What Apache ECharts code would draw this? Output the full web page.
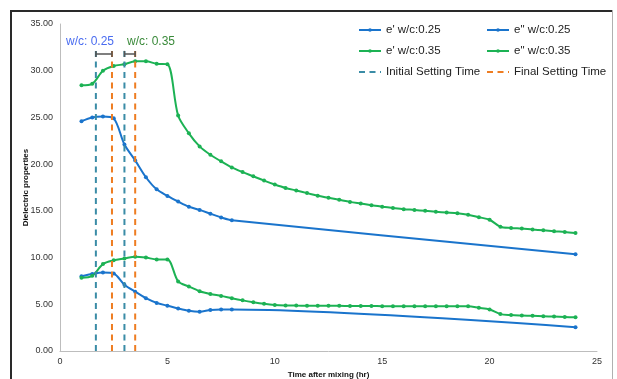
<!DOCTYPE html>
<html>
<head>
<meta charset="utf-8">
<script src="https://cdn.jsdelivr.net/npm/echarts@6/dist/echarts.min.js"></script>
<style>
html,body{margin:0;padding:0;background:#fff;}
#c{width:617px;height:379px;}
</style>
</head>
<body>
<div id="c"></div>
<script>
// ---- data ----
var xW25 = [1, 1.5, 2, 2.5, 3, 3.5, 4, 4.5, 5, 5.5, 6, 6.5, 7, 7.5, 8, 24];
var eP25 = [24.6, 25.0, 25.1, 24.9, 22.1, 20.4, 18.6, 17.3, 16.6, 16.0, 15.45, 15.1, 14.7, 14.3, 14.0, 10.35];
var eDP25 = [8.0, 8.25, 8.4, 8.3, 7.1, 6.35, 5.65, 5.15, 4.85, 4.55, 4.3, 4.2, 4.4, 4.45, 4.45, 2.55];

var xW35 = [1, 1.5, 2, 2.5, 3, 3.5, 4, 4.5, 5, 5.5, 6, 6.5, 7, 7.5, 8, 8.5, 9, 9.5, 10, 10.5, 11, 11.5, 12, 12.5, 13, 13.5, 14, 14.5, 15, 15.5, 16, 16.5, 17, 17.5, 18, 18.5, 19, 19.5, 20, 20.5, 21, 21.5, 22, 22.5, 23, 23.5, 24];
var eP35 = [28.45, 28.6, 30.0, 30.5, 30.7, 31.0, 31.0, 30.75, 30.7, 25.2, 23.3, 21.9, 21.0, 20.3, 19.65, 19.15, 18.7, 18.24, 17.82, 17.45, 17.18, 16.9, 16.62, 16.4, 16.18, 15.96, 15.78, 15.6, 15.45, 15.31, 15.18, 15.1, 15.0, 14.9, 14.82, 14.74, 14.58, 14.32, 14.05, 13.3, 13.17, 13.1, 13.0, 12.92, 12.82, 12.74, 12.63];
var eDP35 = [7.85, 8.05, 9.3, 9.7, 9.9, 10.1, 10.0, 9.8, 9.8, 7.45, 6.9, 6.4, 6.1, 5.9, 5.65, 5.42, 5.22, 5.05, 4.93, 4.88, 4.86, 4.85, 4.84, 4.83, 4.83, 4.82, 4.82, 4.81, 4.8, 4.8, 4.78, 4.78, 4.78, 4.78, 4.78, 4.8, 4.78, 4.62, 4.45, 3.95, 3.85, 3.8, 3.76, 3.72, 3.68, 3.64, 3.6];

var initialSet = [1.67, 3.0];   // w/c 0.25, w/c 0.35
var finalSet = [2.42, 3.5];
var setLineTop = 32.2;
var bracketLevel = 31.8;
var wcLabels = ['w/c: 0.25', 'w/c: 0.35'];

var xTicks = [0, 5, 10, 15, 20, 25];
var yTicks = [0, 5, 10, 15, 20, 25, 30, 35];

// ---- styles ----
var BLUE = '#1a74cc';
var GREEN = '#1cb254';
var TEAL = '#3a8ca6';
var ORANGE = '#ee7d22';
var FONT = '"Liberation Sans", Arial, sans-serif';

function pairs(xs, ys) { return xs.map(function (x, i) { return [x, ys[i]]; }); }

function dataSeries(name, xs, ys, color) {
  return {
    name: name, type: 'line', data: pairs(xs, ys), smooth: 0.3,
    symbol: 'circle', symbolSize: 4, showSymbol: true,
    itemStyle: { color: color },
    lineStyle: { color: color, width: 2 },
    emphasis: { disabled: true }, animation: false, z: 2
  };
}

var series = [
  dataSeries("e' w/c:0.25", xW25, eP25, BLUE),
  dataSeries('e" w/c:0.25', xW25, eDP25, BLUE),
  dataSeries("e' w/c:0.35", xW35, eP35, GREEN),
  dataSeries('e" w/c:0.35', xW35, eDP35, GREEN)
];

function vline(name, t, color) {
  return {
    name: name, type: 'line', data: [[t, 0], [t, setLineTop]],
    symbol: 'none',
    itemStyle: { color: color },
    lineStyle: { color: color, width: 2, type: [6, 4.5] },
    emphasis: { disabled: true }, animation: false, z: 3, silent: true
  };
}
initialSet.forEach(function (t) { series.push(vline('Initial Setting Time', t, TEAL)); });
finalSet.forEach(function (t) { series.push(vline('Final Setting Time', t, ORANGE)); });

initialSet.forEach(function (t, i) {
  series.push({
    name: 'bracket' + i, type: 'line', data: [[t, bracketLevel], [finalSet[i], bracketLevel]],
    symbol: 'rect', symbolSize: [1.5, 6],
    itemStyle: { color: '#555' }, lineStyle: { color: '#555', width: 1.5 },
    emphasis: { disabled: true }, animation: false, z: 4, silent: true
  });
});

var chart = echarts.init(document.getElementById('c'), null, { renderer: 'canvas' });
var legendCommon = {
  orient: 'vertical', top: 24, padding: 0, itemWidth: 22, itemHeight: 4.5, itemGap: 9,
  textStyle: { fontFamily: FONT, fontSize: 11.5, color: '#222' },
  selectedMode: false
};
chart.setOption({
  backgroundColor: '#fff',
  animation: false,
  textStyle: { fontFamily: FONT },
  grid: { left: 60, top: 24, width: 537, height: 327, outerBoundsMode: 'none' },
  legend: [
    Object.assign({ left: 358, data: ["e' w/c:0.25", "e' w/c:0.35",
      { name: 'Initial Setting Time', itemStyle: { opacity: 0 } }] }, legendCommon),
    Object.assign({ left: 486, data: ['e" w/c:0.25', 'e" w/c:0.35',
      { name: 'Final Setting Time', itemStyle: { opacity: 0 } }] }, legendCommon)
  ],
  xAxis: {
    type: 'value', min: xTicks[0], max: xTicks[xTicks.length - 1], interval: 5,
    name: 'Time after mixing (hr)', nameLocation: 'middle', nameGap: 20,
    nameTextStyle: { fontFamily: FONT, fontSize: 8, fontWeight: 'bold', color: '#111' },
    axisLine: { show: true, lineStyle: { color: '#bdbdbd', width: 1 } },
    axisTick: { show: false }, splitLine: { show: false },
    axisLabel: { fontFamily: FONT, fontSize: 9, color: '#333', margin: 6 }
  },
  yAxis: {
    type: 'value', min: yTicks[0], max: yTicks[yTicks.length - 1], interval: 5,
    name: 'Dielectric properties', nameLocation: 'middle', nameGap: 30, nameRotate: 90,
    nameMoveOverlap: false,
    nameTextStyle: { fontFamily: FONT, fontSize: 8, fontWeight: 'bold', color: '#111' },
    axisLine: { show: true, lineStyle: { color: '#bdbdbd', width: 1 } },
    axisTick: { show: false }, splitLine: { show: false },
    axisLabel: { fontFamily: FONT, fontSize: 9, color: '#333', margin: 7,
      formatter: function (v) { return v.toFixed(2); } }
  },
  graphic: [
    { type: 'line', shape: { x1: 10, y1: 11, x2: 613, y2: 11 }, style: { stroke: '#2a2a2a', lineWidth: 2 }, silent: true },
    { type: 'line', shape: { x1: 11, y1: 10, x2: 11, y2: 379 }, style: { stroke: '#2a2a2a', lineWidth: 2 }, silent: true },
    { type: 'line', shape: { x1: 612.5, y1: 10, x2: 612.5, y2: 379 }, style: { stroke: '#b0b0b0', lineWidth: 1 }, silent: true },
    { type: 'text', left: 66, top: 36, style: { text: wcLabels[0], font: '12px ' + FONT, fill: '#4a6cf0' }, silent: true },
    { type: 'text', left: 127, top: 36, style: { text: wcLabels[1], font: '12px ' + FONT, fill: '#3a8a3a' }, silent: true }
  ],
  series: series
});
</script>
</body>
</html>
